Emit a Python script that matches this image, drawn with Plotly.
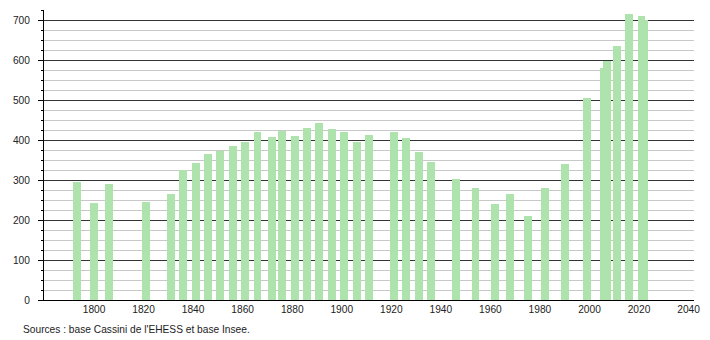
import plotly.graph_objects as go

years = [1793, 1800, 1806, 1821, 1831, 1836, 1841, 1846, 1851, 1856, 1861, 1866,
         1872, 1876, 1881, 1886, 1891, 1896, 1901, 1906, 1911, 1921, 1926, 1931,
         1936, 1946, 1954, 1962, 1968, 1975, 1982, 1990, 1999, 2006, 2007, 2011,
         2016, 2021, 2022]
population = [295, 243, 291, 246, 266, 325, 342, 365, 373, 385, 395, 420,
              407, 423, 410, 430, 442, 427, 420, 395, 412, 420, 405, 370,
              345, 302, 280, 240, 265, 210, 280, 340, 505, 580, 597, 635,
              715, 710, 700]
x_ticks = [1800, 1820, 1840, 1860, 1880, 1900, 1920, 1940, 1960, 1980, 2000, 2020, 2040]
y_ticks = [0, 100, 200, 300, 400, 500, 600, 700]
source_text = "Sources : base Cassini de l'EHESS et base Insee."

FONT = "Liberation Sans, Arial, sans-serif"
FS = 10.2

fig = go.Figure()
fig.add_trace(go.Bar(
    x=years, y=population, width=3.2,
    marker=dict(color="#aee3ae", line=dict(width=0)),
    hoverinfo="x+y",
))

fig.update_layout(
    width=710, height=340,
    margin=dict(l=44, r=10, t=10, b=40),
    paper_bgcolor="white", plot_bgcolor="white",
    showlegend=False,
    font=dict(family=FONT, size=FS, color="#222"),
    bargap=0,
    xaxis=dict(
        range=[1779.8, 2042.2],
        tickmode="array", tickvals=x_ticks, ticktext=[str(v) for v in x_ticks],
        showgrid=False, zeroline=False,
        showline=True, linecolor="black", linewidth=1,
        ticks="", ticklabelstandoff=0,
        tickfont=dict(family=FONT, size=FS, color="#222"),
    ),
    yaxis=dict(
        range=[0, 725],
        tickmode="array", tickvals=y_ticks, ticktext=[str(v) for v in y_ticks],
        showgrid=True, gridcolor="#333333", gridwidth=1,
        zeroline=False,
        showline=True, linecolor="black", linewidth=1,
        ticks="outside", ticklen=5, tickcolor="black", tickwidth=1,
        ticklabelstandoff=6,
        tickfont=dict(family=FONT, size=FS, color="#222"),
        minor=dict(dtick=25, tick0=0, showgrid=True, gridcolor="#c8c8c8",
                   gridwidth=1, ticks="outside", ticklen=2, tickcolor="black"),
    ),
    annotations=[dict(
        text=source_text, xref="paper", yref="paper",
        x=-0.0355, y=-0.10, xanchor="left", yanchor="middle",
        showarrow=False, font=dict(family=FONT, size=FS, color="#222"),
    )],
)

fig.write_html("out.html")
